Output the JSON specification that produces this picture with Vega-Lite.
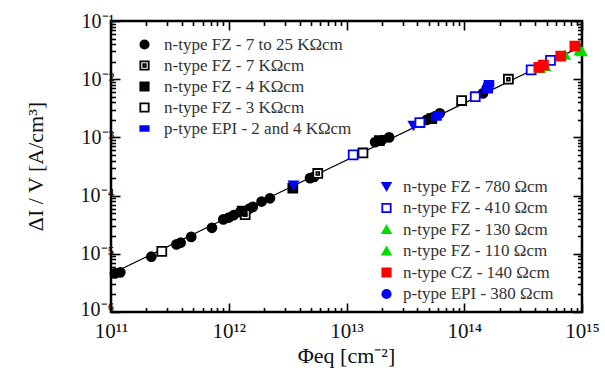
{
  "$schema": "https://vega.github.io/schema/vega-lite/v6.json",
  "width": 471,
  "height": 291,
  "autosize": {"type": "none"},
  "padding": {"left": 111, "top": 21, "right": 23, "bottom": 62},
  "background": "white",
  "config": {
    "view": {"stroke": "black", "strokeWidth": 2.5},
    "font": "Liberation Serif",
    "axis": {
      "domain": false,
      "grid": false,
      "tickColor": "black",
      "tickWidth": 1.6,
      "labelFont": "Liberation Serif",
      "labelFontSize": 20,
      "labelColor": "#111",
      "labelOverlap": false,
      "labelBound": false,
      "labelFlush": false,
      "titleFont": "Liberation Serif",
      "titleFontSize": 22,
      "titleFontWeight": "normal",
      "titleColor": "#111"
    },
    "legend": {
      "labelFont": "Liberation Serif",
      "labelFontSize": 17,
      "labelColor": "#333",
      "labelLimit": 400,
      "symbolStrokeWidth": 1.8,
      "symbolSize": 70,
      "padding": 0
    }
  },
  "datasets": {
    "fit": [
      {"phi": 1e11, "dj": 4.5e-6},
      {"phi": 1e15, "dj": 3.7e-2}
    ],
    "hiRes": [
      {"phi": 1.08e11, "dj": 4.6e-6, "s": "n-type FZ - 7 to 25 KΩcm"},
      {"phi": 1.2e11, "dj": 4.8e-6, "s": "n-type FZ - 7 to 25 KΩcm"},
      {"phi": 2.2e11, "dj": 8.9e-6, "s": "n-type FZ - 7 to 25 KΩcm"},
      {"phi": 3.6e11, "dj": 1.45e-5, "s": "n-type FZ - 7 to 25 KΩcm"},
      {"phi": 3.9e11, "dj": 1.55e-5, "s": "n-type FZ - 7 to 25 KΩcm"},
      {"phi": 4.8e11, "dj": 1.95e-5, "s": "n-type FZ - 7 to 25 KΩcm"},
      {"phi": 7.2e11, "dj": 2.8e-5, "s": "n-type FZ - 7 to 25 KΩcm"},
      {"phi": 9e11, "dj": 3.9e-5, "s": "n-type FZ - 7 to 25 KΩcm"},
      {"phi": 1.0e12, "dj": 4.2e-5, "s": "n-type FZ - 7 to 25 KΩcm"},
      {"phi": 1.1e12, "dj": 4.6e-5, "s": "n-type FZ - 7 to 25 KΩcm"},
      {"phi": 1.25e12, "dj": 5.2e-5, "s": "n-type FZ - 7 to 25 KΩcm"},
      {"phi": 1.5e12, "dj": 6.0e-5, "s": "n-type FZ - 7 to 25 KΩcm"},
      {"phi": 1.6e12, "dj": 6.4e-5, "s": "n-type FZ - 7 to 25 KΩcm"},
      {"phi": 1.9e12, "dj": 7.9e-5, "s": "n-type FZ - 7 to 25 KΩcm"},
      {"phi": 2.24e12, "dj": 9e-5, "s": "n-type FZ - 7 to 25 KΩcm"},
      {"phi": 4.9e12, "dj": 2.0e-4, "s": "n-type FZ - 7 to 25 KΩcm"},
      {"phi": 5.3e12, "dj": 2.1e-4, "s": "n-type FZ - 7 to 25 KΩcm"},
      {"phi": 1.75e13, "dj": 8.3e-4, "s": "n-type FZ - 7 to 25 KΩcm"},
      {"phi": 2.0e13, "dj": 9.0e-4, "s": "n-type FZ - 7 to 25 KΩcm"},
      {"phi": 2.3e13, "dj": 1.0e-3, "s": "n-type FZ - 7 to 25 KΩcm"},
      {"phi": 4.8e13, "dj": 2.0e-3, "s": "n-type FZ - 7 to 25 KΩcm"},
      {"phi": 5.4e13, "dj": 2.2e-3, "s": "n-type FZ - 7 to 25 KΩcm"},
      {"phi": 6.2e13, "dj": 2.6e-3, "s": "n-type FZ - 7 to 25 KΩcm"},
      {"phi": 1.44e14, "dj": 5.7e-3, "s": "n-type FZ - 7 to 25 KΩcm"},
      {"phi": 1.38e12, "dj": 4.7e-5, "s": "n-type FZ - 7 KΩcm"},
      {"phi": 5.7e12, "dj": 2.4e-4, "s": "n-type FZ - 7 KΩcm"},
      {"phi": 2.37e14, "dj": 1.0e-2, "s": "n-type FZ - 7 KΩcm"},
      {"phi": 1.3e12, "dj": 5.4e-5, "s": "n-type FZ - 4 KΩcm"},
      {"phi": 3.5e12, "dj": 1.35e-4, "s": "n-type FZ - 4 KΩcm"},
      {"phi": 1.9e13, "dj": 8.8e-4, "s": "n-type FZ - 4 KΩcm"},
      {"phi": 5.3e13, "dj": 2.1e-3, "s": "n-type FZ - 4 KΩcm"},
      {"phi": 2.7e11, "dj": 1.1e-5, "s": "n-type FZ - 3 KΩcm"},
      {"phi": 1.38e13, "dj": 5.4e-4, "s": "n-type FZ - 3 KΩcm"},
      {"phi": 9.5e13, "dj": 4.3e-3, "s": "n-type FZ - 3 KΩcm"},
      {"phi": 5.8e13, "dj": 2.2e-3, "s": "p-type EPI - 2 and 4 KΩcm"},
      {"phi": 6.0e13, "dj": 2.5e-3, "s": "p-type EPI - 2 and 4 KΩcm"},
      {"phi": 1.58e14, "dj": 6.5e-3, "s": "p-type EPI - 2 and 4 KΩcm"},
      {"phi": 1.6e14, "dj": 7.5e-3, "s": "p-type EPI - 2 and 4 KΩcm"},
      {"phi": 1.62e14, "dj": 8.5e-3, "s": "p-type EPI - 2 and 4 KΩcm"}
    ],
    "loRes": [
      {"phi": 3.55e12, "dj": 1.5e-4, "s": "n-type FZ - 780 Ωcm"},
      {"phi": 3.7e13, "dj": 1.6e-3, "s": "n-type FZ - 780 Ωcm"},
      {"phi": 1.14e13, "dj": 5.0e-4, "s": "n-type FZ - 410 Ωcm"},
      {"phi": 4.2e13, "dj": 1.8e-3, "s": "n-type FZ - 410 Ωcm"},
      {"phi": 1.24e14, "dj": 5.0e-3, "s": "n-type FZ - 410 Ωcm"},
      {"phi": 3.7e14, "dj": 1.45e-2, "s": "n-type FZ - 410 Ωcm"},
      {"phi": 5.4e14, "dj": 2.1e-2, "s": "n-type FZ - 410 Ωcm"},
      {"phi": 4.4e14, "dj": 1.55e-2, "s": "n-type FZ - 130 Ωcm"},
      {"phi": 7.2e14, "dj": 2.6e-2, "s": "n-type FZ - 130 Ωcm"},
      {"phi": 1.0e15, "dj": 3.0e-2, "s": "n-type FZ - 130 Ωcm"},
      {"phi": 4.9e14, "dj": 1.65e-2, "s": "n-type FZ - 110 Ωcm"},
      {"phi": 9.5e14, "dj": 3.1e-2, "s": "n-type FZ - 110 Ωcm"},
      {"phi": 4.3e14, "dj": 1.6e-2, "s": "n-type CZ - 140 Ωcm"},
      {"phi": 4.7e14, "dj": 1.75e-2, "s": "n-type CZ - 140 Ωcm"},
      {"phi": 6.6e14, "dj": 2.5e-2, "s": "n-type CZ - 140 Ωcm"},
      {"phi": 8.7e14, "dj": 3.7e-2, "s": "n-type CZ - 140 Ωcm"},
      {"phi": 1.55e14, "dj": 7.0e-3, "s": "p-type EPI - 380 Ωcm"}
    ]
  },
  "layer": [
    {
      "data": {"name": "fit"},
      "mark": {"type": "line", "color": "black", "strokeWidth": 1.2},
      "encoding": {
        "x": {
          "field": "phi", "type": "quantitative",
          "scale": {"type": "log", "domain": [1e11, 1e15], "nice": false},
          "axis": {
            "orient": "bottom",
            "values": [1e11,2e11,3e11,4e11,5e11,6e11,7e11,8e11,9e11,1e12,2e12,3e12,4e12,5e12,6e12,7e12,8e12,9e12,1e13,2e13,3e13,4e13,5e13,6e13,7e13,8e13,9e13,1e14,2e14,3e14,4e14,5e14,6e14,7e14,8e14,9e14,1e15],
            "labelExpr": "abs(log(datum.value)/LN10 - round(log(datum.value)/LN10)) > 0.01 ? '' : (round(log(datum.value)/LN10) == 11 ? '10¹¹' : round(log(datum.value)/LN10) == 12 ? '10¹²' : round(log(datum.value)/LN10) == 13 ? '10¹³' : round(log(datum.value)/LN10) == 14 ? '10¹⁴' : '10¹⁵')",
            "tickSize": {"condition": {"test": "abs(log(datum.value)/LN10 - round(log(datum.value)/LN10)) < 0.01", "value": -9}, "value": -4.5},
            "labelPadding": 17,
            "labelFontSize": 21,
            "title": "Φeq [cm⁻²]",
            "titleX": 235,
            "titleY": 43,
            "titleBaseline": "middle"
          }
        },
        "y": {
          "field": "dj", "type": "quantitative",
          "scale": {"type": "log", "domain": [1e-6, 1e-1], "nice": false},
          "axis": {
            "orient": "left",
            "values": [1e-6,2e-6,3e-6,4e-6,5e-6,6e-6,7e-6,8e-6,9e-6,1e-5,2e-5,3e-5,4e-5,5e-5,6e-5,7e-5,8e-5,9e-5,1e-4,2e-4,3e-4,4e-4,5e-4,6e-4,7e-4,8e-4,9e-4,1e-3,2e-3,3e-3,4e-3,5e-3,6e-3,7e-3,8e-3,9e-3,1e-2,2e-2,3e-2,4e-2,5e-2,6e-2,7e-2,8e-2,9e-2,1e-1],
            "labelExpr": "abs(log(datum.value)/LN10 - round(log(datum.value)/LN10)) > 0.01 ? '' : (round(log(datum.value)/LN10) == -1 ? '10⁻¹' : round(log(datum.value)/LN10) == -2 ? '10⁻²' : round(log(datum.value)/LN10) == -3 ? '10⁻³' : round(log(datum.value)/LN10) == -4 ? '10⁻⁴' : round(log(datum.value)/LN10) == -5 ? '10⁻⁵' : '10⁻⁶')",
            "labelOffset": {"condition": {"test": "datum.value < 1.5e-6", "value": -3}, "value": 0},
            "tickSize": {"condition": {"test": "abs(log(datum.value)/LN10 - round(log(datum.value)/LN10)) < 0.01", "value": -9}, "value": -4.5},
            "labelPadding": 6,
            "labelFontSize": 20,
            "title": "ΔI / V  [A/cm³]",
            "titleX": -76,
            "titleY": 145,
            "titleBaseline": "middle"
          }
        }
      }
    },
    {
      "data": {"name": "hiRes"},
      "mark": {"type": "point", "filled": false, "strokeWidth": 1.8, "opacity": 1, "size": 80},
      "encoding": {
        "x": {
          "field": "phi", "type": "quantitative",
          "scale": {"type": "log", "domain": [1e11, 1e15], "nice": false},
          "axis": {
            "orient": "top",
            "values": [1e11,2e11,3e11,4e11,5e11,6e11,7e11,8e11,9e11,1e12,2e12,3e12,4e12,5e12,6e12,7e12,8e12,9e12,1e13,2e13,3e13,4e13,5e13,6e13,7e13,8e13,9e13,1e14,2e14,3e14,4e14,5e14,6e14,7e14,8e14,9e14,1e15],
            "labels": false,
            "title": null,
            "tickSize": {"condition": {"test": "abs(log(datum.value)/LN10 - round(log(datum.value)/LN10)) < 0.01", "value": -9}, "value": -4.5}
          }
        },
        "y": {
          "field": "dj", "type": "quantitative",
          "scale": {"type": "log", "domain": [1e-6, 1e-1], "nice": false},
          "axis": {
            "orient": "right",
            "values": [1e-6,2e-6,3e-6,4e-6,5e-6,6e-6,7e-6,8e-6,9e-6,1e-5,2e-5,3e-5,4e-5,5e-5,6e-5,7e-5,8e-5,9e-5,1e-4,2e-4,3e-4,4e-4,5e-4,6e-4,7e-4,8e-4,9e-4,1e-3,2e-3,3e-3,4e-3,5e-3,6e-3,7e-3,8e-3,9e-3,1e-2,2e-2,3e-2,4e-2,5e-2,6e-2,7e-2,8e-2,9e-2,1e-1],
            "labels": false,
            "title": null,
            "tickSize": {"condition": {"test": "abs(log(datum.value)/LN10 - round(log(datum.value)/LN10)) < 0.01", "value": -9}, "value": -4.5}
          }
        },
        "shape": {
          "field": "s", "type": "nominal",
          "scale": {
            "domain": ["n-type FZ - 7 to 25 KΩcm", "n-type FZ - 7 KΩcm", "n-type FZ - 4 KΩcm", "n-type FZ - 3 KΩcm", "p-type EPI - 2 and 4 KΩcm"],
            "range": ["circle", "M-1,-1H1V1H-1Z M-0.3,-0.3H0.3V0.3H-0.3Z", "M-1,-1H1V1H-1Z M0.05,0.05V0.55H0.55V0.05Z", "square", "M-1,-0.55H1V0.55H-1Z"]
          },
          "legend": {"title": null, "orient": "none", "legendX": 25, "legendY": 15, "rowPadding": 3, "labelOffset": 11}
        },
        "fill": {
          "field": "s", "type": "nominal",
          "scale": {
            "domain": ["n-type FZ - 7 to 25 KΩcm", "n-type FZ - 7 KΩcm", "n-type FZ - 4 KΩcm", "n-type FZ - 3 KΩcm", "p-type EPI - 2 and 4 KΩcm"],
            "range": ["black", "white", "black", "white", "#0000ff"]
          }
        },
        "stroke": {
          "field": "s", "type": "nominal",
          "scale": {
            "domain": ["n-type FZ - 7 to 25 KΩcm", "n-type FZ - 7 KΩcm", "n-type FZ - 4 KΩcm", "n-type FZ - 3 KΩcm", "p-type EPI - 2 and 4 KΩcm"],
            "range": ["black", "black", "black", "black", "#0000ff"]
          }
        }
      }
    },
    {
      "data": {"name": "loRes"},
      "mark": {"type": "point", "filled": false, "strokeWidth": 1.8, "opacity": 1, "size": 80},
      "encoding": {
        "x": {"field": "phi", "type": "quantitative", "axis": null},
        "y": {"field": "dj", "type": "quantitative", "axis": null},
        "shape": {
          "field": "s", "type": "nominal",
          "scale": {
            "domain": ["n-type FZ - 780 Ωcm", "n-type FZ - 410 Ωcm", "n-type FZ - 130 Ωcm", "n-type FZ - 110 Ωcm", "n-type CZ - 140 Ωcm", "p-type EPI - 380 Ωcm"],
            "range": ["triangle-down", "square", "triangle-up", "triangle-up", "square", "circle"]
          },
          "legend": {"title": null, "orient": "none", "legendX": 267, "legendY": 157, "rowPadding": 3.5, "labelOffset": 8}
        },
        "fill": {
          "field": "s", "type": "nominal",
          "scale": {
            "domain": ["n-type FZ - 780 Ωcm", "n-type FZ - 410 Ωcm", "n-type FZ - 130 Ωcm", "n-type FZ - 110 Ωcm", "n-type CZ - 140 Ωcm", "p-type EPI - 380 Ωcm"],
            "range": ["#0000ff", "white", "#00dd00", "#00dd00", "#ff0000", "#0000ff"]
          }
        },
        "stroke": {
          "field": "s", "type": "nominal",
          "scale": {
            "domain": ["n-type FZ - 780 Ωcm", "n-type FZ - 410 Ωcm", "n-type FZ - 130 Ωcm", "n-type FZ - 110 Ωcm", "n-type CZ - 140 Ωcm", "p-type EPI - 380 Ωcm"],
            "range": ["#0000ff", "#0000ff", "#00dd00", "#00dd00", "#ff0000", "#0000ff"]
          }
        }
      }
    }
  ],
  "resolve": {
    "scale": {"shape": "independent", "fill": "independent", "stroke": "independent"},
    "axis": {"x": "independent", "y": "independent"}
  }
}
